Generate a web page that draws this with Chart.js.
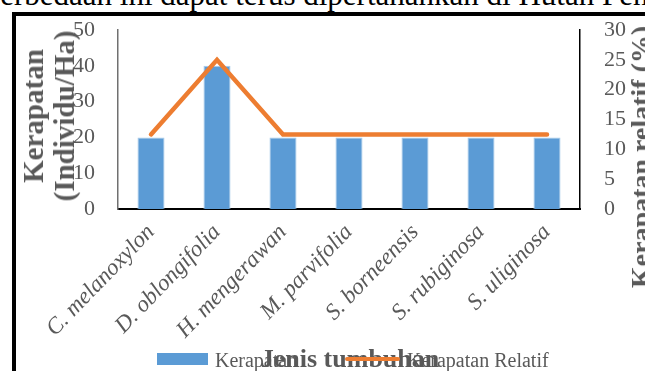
<!DOCTYPE html>
<html>
<head>
<meta charset="utf-8">
<script src="https://cdn.jsdelivr.net/npm/chart.js@4.4.1/dist/chart.umd.min.js"></script>
<style>
    html, body { margin: 0; padding: 0; background: #fff; overflow: hidden; }
    #wrap { position: relative; width: 645px; height: 371px; overflow: hidden; font-family: "Liberation Serif", "Times New Roman", serif; }
    #doc { position: absolute; left: -17px; top: -21px; font-size: 31px; line-height: 31px; color: #000; white-space: nowrap; }
    #frame { position: absolute; left: 12px; top: 12px; width: 700px; height: 400px; border-left: 4px solid #000; border-top: 4px solid #000; }
    #chart { position: absolute; left: 0; top: 0; }
    .title { position: absolute; color: #595959; font-weight: bold; white-space: nowrap; text-align: center; }
    .rot { transform: translate(-50%, -50%) rotate(-90deg); }
    #legend { position: absolute; left: 0; top: 0; width: 645px; height: 371px; pointer-events: none; }
    .lg-text { position: absolute; font-size: 20px; line-height: 20px; color: #595959; white-space: nowrap; }
    .lg-mark { position: absolute; }
</style>
</head>
<body>
<div id="wrap">
    <div id="doc">Perbedaan ini dapat terus dipertahankan di Hutan Pendidikan</div>
    <div id="frame"></div>
    <canvas id="chart" width="645" height="371"></canvas>
    <div id="titleY" class="title rot" style="left:49px; top:116px; font-size:29px; line-height:31px;"></div>
    <div id="titleY1" class="title rot" style="left:641px; top:157px; font-size:28px; line-height:28px;"></div>
    <div id="titleX" class="title" style="left:350px; top:346px; font-size:26px; line-height:26px; transform:translateX(-50%);"></div>
    <div id="legend"></div>
</div>
<script>
// Data
const categories = ['C. melanoxylon', 'D. oblongifolia', 'H. mengerawan', 'M. parvifolia', 'S. borneensis', 'S. rubiginosa', 'S. uliginosa'];
const kerapatan = [20, 40, 20, 20, 20, 20, 20];
const kerapatanRelatif = [12.5, 25, 12.5, 12.5, 12.5, 12.5, 12.5];
const seriesNames = ['Kerapatan', 'Kerapatan Relatif'];
const seriesColors = ['#5B9BD5', '#ED7D31'];
const leftAxis = [0, 50, 10];   // min, max, step
const rightAxis = [0, 30, 5];
const xTitle = 'Jenis tumbuhan';
const yTitleLines = ['Kerapatan', '(Individu/Ha)'];
const y1Title = 'Kerapatan relatif (%)';

const FONT = '"Liberation Serif", "Times New Roman", serif';
const GREY = '#595959';

document.getElementById('titleX').innerText = xTitle;
document.getElementById('titleY').innerHTML = yTitleLines.join('<br>');
document.getElementById('titleY1').innerText = y1Title;

// Legend (bar box + line sample)
function buildLegend() {
    const lg = document.getElementById('legend');
    const items = [
        { mark: { left: 157, top: 353, width: 51, height: 12 }, textLeft: 215 },
        { mark: { left: 345, top: 357, width: 55, height: 4 }, textLeft: 407 }
    ];
    items.forEach((it, i) => {
        const m = document.createElement('div');
        m.className = 'lg-mark';
        Object.entries(it.mark).forEach(([k, v]) => m.style[k] = v + 'px');
        m.style.background = seriesColors[i];
        if (i === 1) m.style.borderRadius = '2px';
        const t = document.createElement('div');
        t.className = 'lg-text';
        t.style.left = it.textLeft + 'px';
        t.style.top = '350px';
        t.innerText = seriesNames[i];
        lg.appendChild(t);
        lg.appendChild(m);
    });
}

// y axes: tick marks are hidden but their length spaces the labels from the axis line
function yAxisOpts(pos, range, gap, borderColor, width) {
    return {
        position: pos,
        min: range[0],
        max: range[1],
        grid: { display: false, drawTicks: true, tickLength: gap },
        border: { display: true, color: borderColor, width: 1.5 },
        ticks: {
            stepSize: range[2],
            autoSkip: false,
            color: GREY,
            font: { family: FONT, size: 22 },
            padding: 0
        },
        afterFit: s => { s.width = width; }
    };
}

const ctx = document.getElementById('chart').getContext('2d');
new Chart(ctx, {
    data: {
        labels: categories,
        datasets: [
            {
                type: 'line',
                label: seriesNames[1],
                data: kerapatanRelatif,
                yAxisID: 'y1',
                borderColor: seriesColors[1],
                borderWidth: 4.5,
                borderCapStyle: 'round',
                pointRadius: 0,
                tension: 0,
                order: 0
            },
            {
                type: 'bar',
                label: seriesNames[0],
                data: kerapatan,
                yAxisID: 'y',
                backgroundColor: seriesColors[0],
                borderColor: '#a9cbea',
                borderWidth: 1,
                categoryPercentage: 1,
                barPercentage: 0.41,
                order: 1
            }
        ]
    },
    options: {
        responsive: false,
        animation: false,
        layout: { padding: { top: 30, left: 0, right: 0, bottom: 0 } },
        plugins: { legend: { display: false }, tooltip: { enabled: false } },
        scales: {
            x: {
                grid: { display: false, drawTicks: false },
                border: { display: true, color: '#000', width: 2 },
                ticks: {
                    color: GREY,
                    font: { family: FONT, size: 23, style: 'italic' },
                    minRotation: 46,
                    maxRotation: 46,
                    autoSkip: false,
                    padding: 10
                },
                afterFit: s => { s.height = 162; }
            },
            y: yAxisOpts('left', leftAxis, 23, '#707070', 118),
            y1: yAxisOpts('right', rightAxis, 24, '#000', 65)
        }
    }
});

buildLegend();
</script>
</body>
</html>
